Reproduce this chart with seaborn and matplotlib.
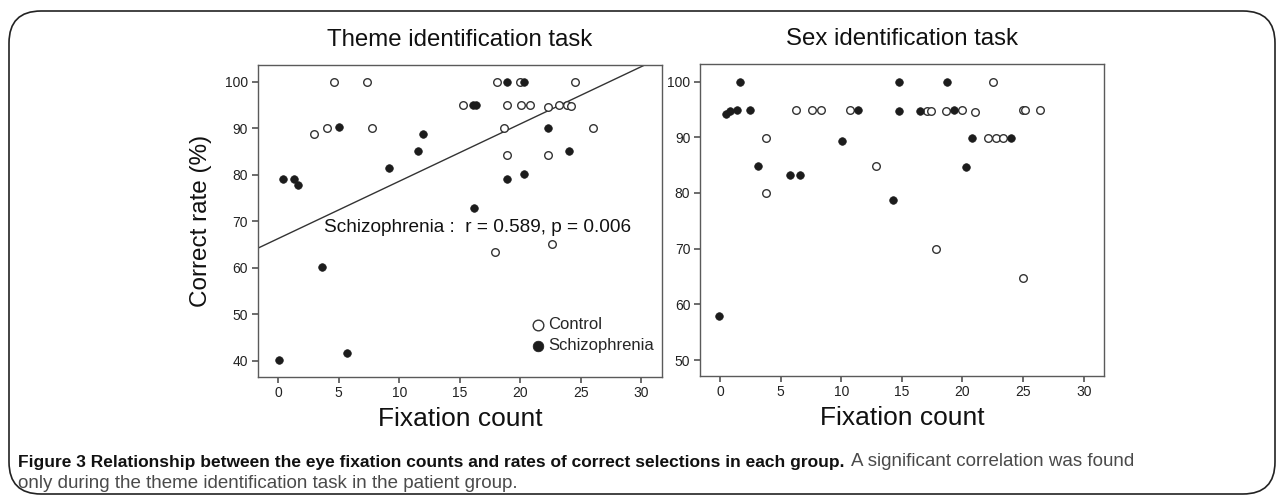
import numpy as np
import pandas as pd
import matplotlib
matplotlib.use("Agg")
import matplotlib.pyplot as plt
from matplotlib.patches import FancyBboxPatch
import seaborn as sns

# ---------------- data ----------------
theme_ctrl_x = [4.63, 7.36, 2.93, 4.03, 7.75, 18.06, 20.0, 24.54, 15.28, 18.9, 20.07, 20.8,
                22.3, 23.16, 23.85, 24.18, 18.64, 26.03, 18.9, 22.3, 22.6, 17.9]
theme_ctrl_y = [100, 100, 88.8, 90.1, 90.1, 100, 100, 100, 95.1, 95.1, 95.1, 95.1,
                94.5, 95.1, 95.1, 94.8, 90.1, 90.1, 84.3, 84.3, 65.2, 63.4]
theme_scz_x = [5.0, 0.36, 1.3, 1.63, 9.13, 11.55, 11.97, 18.9, 20.3, 16.1, 16.3, 22.3,
               24.04, 18.9, 20.3, 16.2, 3.6, 0.08, 5.7]
theme_scz_y = [90.2, 79.1, 79.1, 77.9, 81.4, 85.1, 88.8, 100, 100, 95.1, 95.1, 90.1,
               85.1, 79.1, 80.1, 72.9, 60.1, 40.2, 41.8]

sex_ctrl_x = [3.77, 3.77, 6.3, 7.57, 8.29, 10.74, 12.9, 22.48, 17.07, 17.38, 18.68, 19.94,
              21.04, 24.96, 25.17, 26.36, 22.12, 22.75, 23.36, 17.8, 24.96]
sex_ctrl_y = [89.9, 79.95, 94.9, 94.9, 94.9, 94.9, 84.9, 100, 94.8, 94.8, 94.8, 94.9,
              94.55, 94.9, 94.9, 94.9, 89.8, 89.8, 89.8, 69.95, 64.8]
sex_scz_x = [0.46, 0.83, 1.4, 1.68, 2.48, 3.11, 5.81, 6.58, 11.4, 10.05, 14.76, 18.73,
             14.76, 16.53, 19.34, 20.8, 24.0, 20.33, 14.24, -0.08]
sex_scz_y = [94.25, 94.8, 94.9, 100, 94.9, 84.9, 83.2, 83.2, 94.9, 89.4, 100, 100,
             94.8, 94.8, 94.9, 89.8, 89.9, 84.7, 78.75, 57.9]

# fitted line for schizophrenia group, theme task
fit_intercept = 66.3
fit_slope = 1.232
annotation = "Schizophrenia :  r = 0.589, p = 0.006"

titles = ["Theme identification task", "Sex identification task"]
x_label = "Fixation count"
y_label = "Correct rate (%)"
x_ticks = [0, 5, 10, 15, 20, 25, 30]
theme_y_ticks = [40, 50, 60, 70, 80, 90, 100]
sex_y_ticks = [50, 60, 70, 80, 90, 100]
legend_labels = ["Control", "Schizophrenia"]
caption_bold = "Figure 3 Relationship between the eye fixation counts and rates of correct selections in each group."
caption_rest = "A significant correlation was found"
caption_line2 = "only during the theme identification task in the patient group."

# ---------------- style ----------------
sns.set_theme(style="ticks")
plt.rcParams["font.family"] = ["Liberation Sans", "DejaVu Sans"]
SPINE = "#5a5a5a"
plt.rcParams.update({
    "axes.edgecolor": SPINE,
    "axes.linewidth": 1.0,
    "xtick.color": SPINE,
    "ytick.color": SPINE,
    "xtick.labelcolor": "#222222",
    "ytick.labelcolor": "#222222",
    "xtick.major.size": 4,
    "ytick.major.size": 4,
    "xtick.labelsize": 10,
    "ytick.labelsize": 10,
})

W, H = 1282, 495
fig = plt.figure(figsize=(W / 100, H / 100), dpi=100)

ax1 = fig.add_axes([257.7 / W, 1 - 376.7 / H, (662 - 257.7) / W, (376.7 - 65) / H])
ax2 = fig.add_axes([700 / W, 1 - 375.7 / H, (1104.3 - 700) / W, (375.7 - 64.3) / H])

FILL = "#1c1c1c"
OPEN_EDGE = "#333333"
S = 30


def draw(ax, cx, cy, sx, sy):
    sns.scatterplot(x=cx, y=cy, ax=ax, s=S, marker="o", facecolor="white",
                    edgecolor=OPEN_EDGE, linewidth=1.0, label=legend_labels[0], zorder=3)
    sns.scatterplot(x=sx, y=sy, ax=ax, s=S, marker="o", color=FILL,
                    edgecolor=FILL, linewidth=0.5, label=legend_labels[1], zorder=4)


draw(ax1, theme_ctrl_x, theme_ctrl_y, theme_scz_x, theme_scz_y)
draw(ax2, sex_ctrl_x, sex_ctrl_y, sex_scz_x, sex_scz_y)

ax1.axline((0, fit_intercept), slope=fit_slope, color="#333333", lw=1.0, zorder=2)
ax1.text(3.8, 68.6, annotation, fontsize=13.7, va="center", ha="left", color="#111111")

ax1.set_xlim(-1.7, 31.7)
ax1.set_ylim(36.6, 103.6)
ax1.set_yticks(theme_y_ticks)
ax2.set_xlim(-1.65, 31.7)
ax2.set_ylim(47.2, 103.1)
ax2.set_yticks(sex_y_ticks)

for ax, t in zip([ax1, ax2], titles):
    ax.set_xticks(x_ticks)
    ax.set_title(t, fontsize=17.3, pad=14, color="#111111")
    ax.set_xlabel(x_label, fontsize=19, color="#111111", labelpad=5)
    for sp in ax.spines.values():
        sp.set_visible(True)
        sp.set_color(SPINE)
    ax.tick_params(pad=3)

ax1.set_ylabel(y_label, fontsize=17.5, color="#111111", labelpad=9)
ax2.set_ylabel("")

leg = ax1.legend(loc="upper left", bbox_to_anchor=(0.652, 0.212), frameon=False,
                 fontsize=12, handletextpad=0.0, handlelength=1.2, borderaxespad=0,
                 labelspacing=0.35, markerscale=1.4)
ax2.get_legend().remove()

# frame
frame = FancyBboxPatch((9 / W, 1 - 494 / H), (1275 - 9) / W, (494 - 11) / H,
                       boxstyle="round,pad=0,rounding_size=0.025",
                       transform=fig.transFigure, fill=False, edgecolor="#222222",
                       linewidth=1.2, mutation_aspect=W / H)
fig.patches.append(frame)

# caption
cap_font = ["Liberation Sans", "DejaVu Sans"]
t1 = fig.text(18 / W, 1 - 467 / H, caption_bold, fontsize=12.5, fontweight="bold",
              family=cap_font, va="baseline", ha="left", color="#111111")
fig.text(0, 0, "")
plt.annotate(caption_rest, xy=(1, 0), xycoords=t1, xytext=(5, 0),
             textcoords="offset points", fontsize=13.5, family=cap_font,
             va="bottom", ha="left", color="#4a4a4a", annotation_clip=False)
fig.text(18 / W, 1 - 488 / H, caption_line2, fontsize=13.5, family=cap_font,
         va="baseline", ha="left", color="#4a4a4a")

fig.savefig("out.png", dpi=100)
